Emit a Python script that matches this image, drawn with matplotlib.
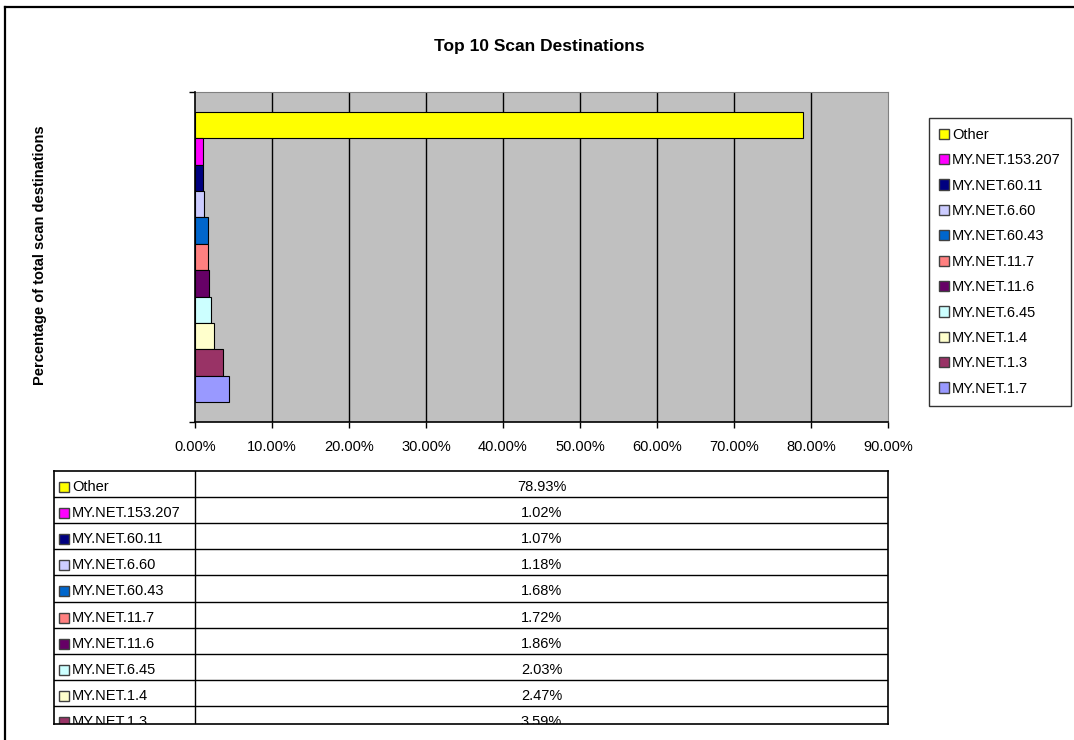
import matplotlib
matplotlib.use("Agg")
import matplotlib.pyplot as plt
from matplotlib.patches import Patch, Rectangle
from matplotlib.lines import Line2D

plt.rcParams['font.family'] = ['Liberation Sans', 'DejaVu Sans']

# data (top to bottom as drawn)
destinations = ['Other', 'MY.NET.153.207', 'MY.NET.60.11', 'MY.NET.6.60', 'MY.NET.60.43',
                'MY.NET.11.7', 'MY.NET.11.6', 'MY.NET.6.45', 'MY.NET.1.4', 'MY.NET.1.3',
                'MY.NET.1.7']
percentages = [78.93, 1.02, 1.07, 1.18, 1.68, 1.72, 1.86, 2.03, 2.47, 3.59, 4.45]
colors = ['#FFFF00', '#FF00FF', '#000080', '#CCCCFF', '#0066CC', '#FF8080',
          '#660066', '#CCFFFF', '#FFFFCC', '#993366', '#9999FF']
xticks = [0, 10, 20, 30, 40, 50, 60, 70, 80, 90]

W, H = 1074, 740
FS = 10.5
fig = plt.figure(figsize=(W / 100, H / 100), dpi=100)


def box(x0, y0, x1, y1):
    # pixel box -> figure fraction rect
    return [x0 / W, 1 - y1 / H, (x1 - x0) / W, (y1 - y0) / H]


# outer chart frame (top and left edges visible)
fig.add_artist(Line2D([5 / W, 1], [1 - 7 / H, 1 - 7 / H], color='black', lw=1.6))
fig.add_artist(Line2D([5 / W, 5 / W], [1 - 7 / H, 0], color='black', lw=1.6))

fig.text(539 / W, 1 - 46 / H, 'Top 10 Scan Destinations', fontsize=12.5,
         fontweight='bold', ha='center', va='center')
fig.text(40 / W, 1 - 255 / H, 'Percentage of total scan destinations', fontsize=10.5,
         fontweight='bold', rotation=90, ha='center', va='center')

# bar plot
ax = fig.add_axes(box(195, 92, 888, 422))
ax.set_facecolor('#C0C0C0')
ypos = list(range(len(destinations)))
ax.barh(ypos, percentages, height=1.0, color=colors, edgecolor='black', linewidth=0.8,
        zorder=3)
ax.set_xlim(0, 90)
ax.set_ylim(len(destinations) + 0.25, -1.25)
ax.set_xticks(xticks)
ax.set_xticklabels(['%.2f%%' % v for v in xticks], fontsize=FS)
ax.set_yticks([-1.25, len(destinations) + 0.25])
ax.set_yticklabels(['', ''])
ax.tick_params(axis='both', direction='out', length=4, width=1, color='black', pad=9)
for v in xticks[1:-1]:
    ax.axvline(v, color='black', lw=1, zorder=1)
for s in ['top', 'right']:
    ax.spines[s].set_color('#808080')
for s in ['left', 'bottom']:
    ax.spines[s].set_color('black')
    ax.spines[s].set_linewidth(1.2)
ax.spines['left'].set_zorder(4)

# legend
handles = [Patch(facecolor=c, edgecolor='#404040', linewidth=1) for c in colors]
leg = fig.legend(handles, destinations, loc='upper left',
                 bbox_to_anchor=(929 / W, 1 - 118 / H), fontsize=FS, frameon=True,
                 fancybox=False, shadow=False, handlelength=0.7, handleheight=0.7,
                 handletextpad=0.2, labelspacing=0.78, borderpad=0.68, borderaxespad=0)
leg.get_frame().set_edgecolor('black')
leg.get_frame().set_linewidth(1)

# data table below the chart (clipped at the bottom like the reference)
row_h = 26.1
tx0, tx1, ty0, ty1 = 54, 888, 471, 724
n_vis = (ty1 - ty0) / row_h
tab = fig.add_axes(box(tx0, ty0, tx1, ty1))
tab.set_xlim(0, tx1 - tx0)
tab.set_ylim(n_vis, 0)
tab.set_xticks([])
tab.set_yticks([])
for s in tab.spines.values():
    s.set_color('black')
    s.set_linewidth(1.2)
col_x = 195 - tx0
tab.axvline(col_x, color='black', lw=1)
key = 10
off = 3 / row_h
for i, (name, pct, c) in enumerate(zip(destinations, percentages, colors)):
    if i >= n_vis:
        break  # rows below the chart edge are not shown
    if i > 0:
        tab.axhline(i, color='black', lw=1)
    tab.add_patch(Rectangle((5, i + 0.5 + off - key / row_h / 2), key, key / row_h,
                            facecolor=c, edgecolor='#404040', lw=1, clip_on=True))
    tab.text(18, i + 0.5 + off, name, fontsize=FS, ha='left', va='center', clip_on=True)
    tab.text((col_x + tx1 - tx0) / 2, i + 0.5 + off, '%.2f%%' % pct, fontsize=FS,
             ha='center', va='center', clip_on=True)

fig.savefig('out.png', dpi=100)
